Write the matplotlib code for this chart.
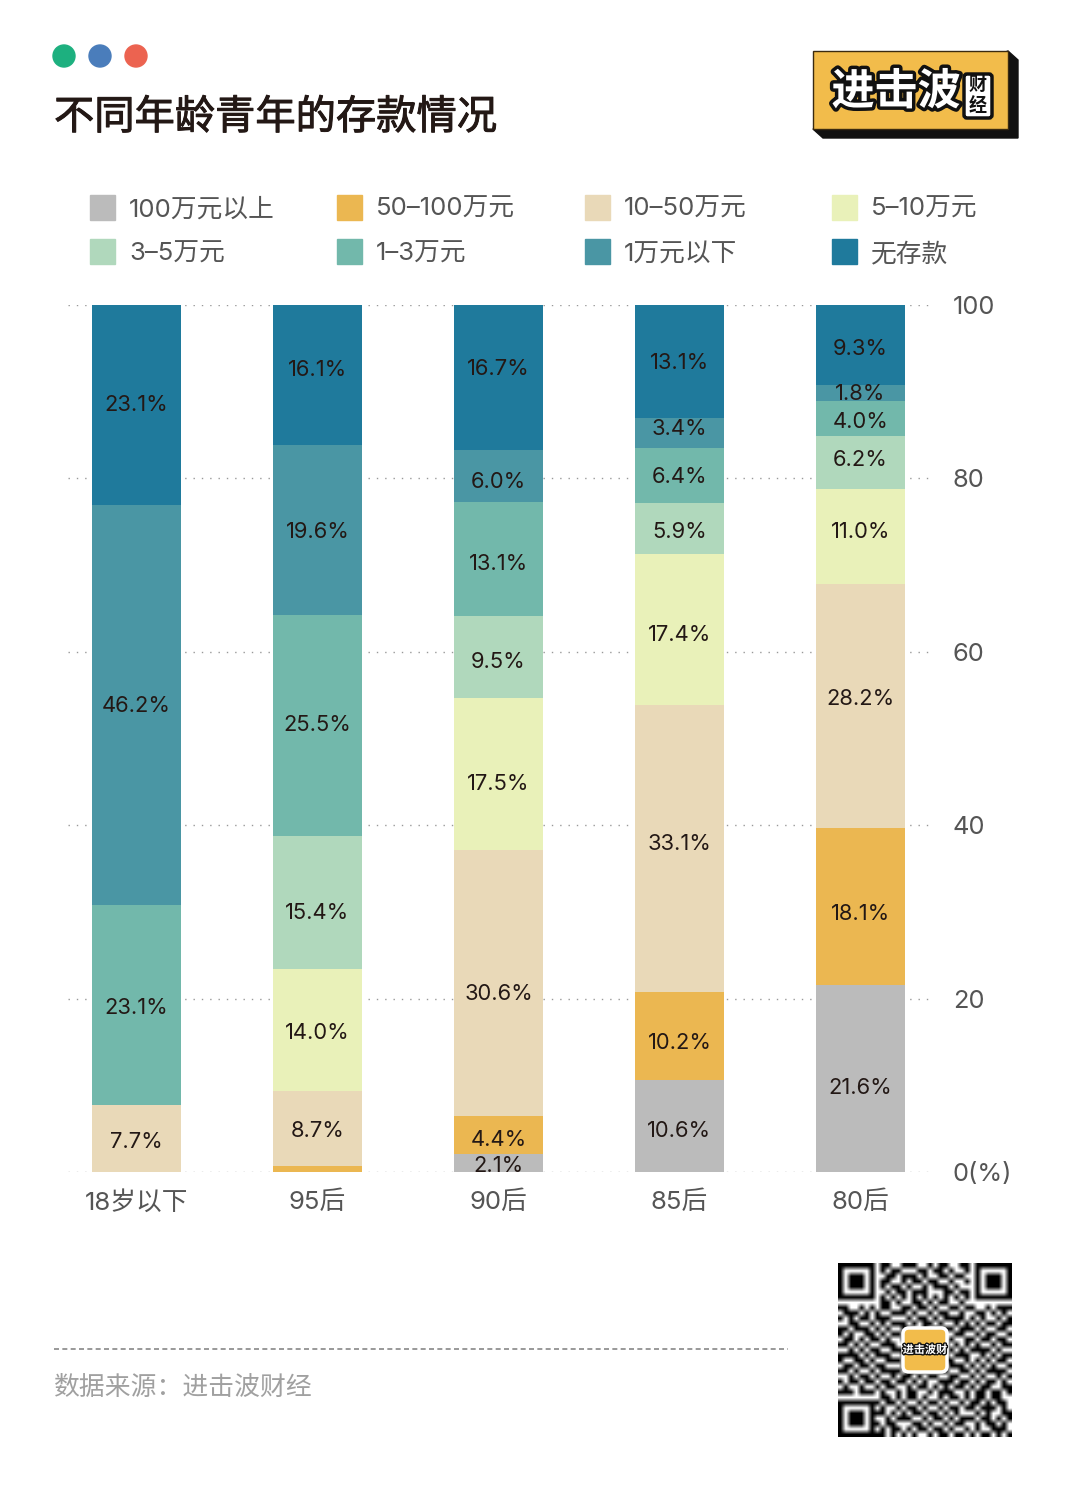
import matplotlib
matplotlib.use('Agg')
import matplotlib.pyplot as plt
import matplotlib.patheffects as pe
from matplotlib.patches import Circle, Polygon, Rectangle, FancyBboxPatch
import numpy as np

# Inter for the digits, the Chinese falls through to Noto
plt.rcParams['font.family'] = ['Inter', 'Noto Sans CJK SC', 'DejaVu Sans']

# data, one list per savings bracket, bottom of the stack first
groups = ['18岁以下', '95后', '90后', '85后', '80后']
over_100 = [0, 0, 2.1, 10.6, 21.6]
w50_100 = [0, 0.7, 4.4, 10.2, 18.1]
w10_50 = [7.7, 8.7, 30.6, 33.1, 28.2]
w5_10 = [0, 14.0, 17.5, 17.4, 11.0]
w3_5 = [0, 15.4, 9.5, 5.9, 6.2]
w1_3 = [23.1, 25.5, 13.1, 6.4, 4.0]
under_1 = [46.2, 19.6, 6.0, 3.4, 1.8]
no_savings = [23.1, 16.1, 16.7, 13.1, 9.3]

series = [over_100, w50_100, w10_50, w5_10, w3_5, w1_3, under_1, no_savings]
names = ['100万元以上', '50–100万元', '10–50万元', '5–10万元',
         '3–5万元', '1–3万元', '1万元以下', '无存款']
colors = ['#BBBBBB', '#EBB751', '#E9D9B8', '#E9F1B9',
          '#B0D8BC', '#72B8AB', '#4A96A4', '#1F7A9C']
y_ticks = [0, 20, 40, 60, 80, 100]
y_labels = ['0(%)', '20', '40', '60', '80', '100']

# the labels in the original are not quite centred, nudge in pixels (down is positive)
label_nudge = [[0, 0, 2, 4, 8],
               [0, 0, 4, 6, 6],
               [2, 2, 10, -5, -8],
               [0, 2, 9, 4, -6],
               [0, 10, 4, 2, -3],
               [2, -1, 4, 0, 3],
               [0, 1, 5, -5, 0],
               [-1, -6, -9, 0, 3]]

W, H = 1080, 1498
fig = plt.figure(figsize=(W / 100, H / 100), dpi=100, facecolor='white')

# chart axes, placed in pixels
left, right, top, bottom = 68, 932, 305, 1172
ax = fig.add_axes([left / W, 1 - bottom / H, (right - left) / W, (bottom - top) / H])
ax.set_xlim((left - 136.5) / 181, (right - 136.5) / 181)
ax.set_ylim(0, 100)

vals = np.array(series, dtype=float)
# bars always fill the whole column, the labels keep the rounded numbers
shares = vals / vals.sum(axis=0) * 100
base = np.zeros(len(groups))
for i in range(len(series)):
    ax.bar(range(len(groups)), shares[i], 89 / 181, bottom=base, color=colors[i], zorder=2)
    for j in range(len(groups)):
        if vals[i][j] >= 1:
            ax.annotate('%.1f%%' % vals[i][j], (j, base[j] + shares[i][j] / 2),
                        xytext=(0, -(label_nudge[i][j] + 1) * 0.72), textcoords='offset points',
                        ha='center', va='center', fontsize=15.8, color='#231815', zorder=3)
    base += shares[i]

ax.set_yticks(y_ticks)
ax.set_yticklabels(y_labels, fontsize=18.3, color='#555555')
ax.yaxis.tick_right()
ax.set_xticks(range(len(groups)))
ax.set_xticklabels(groups, fontsize=18.5, color='#555555')
ax.tick_params(axis='y', length=0, pad=15)
ax.tick_params(axis='x', length=0, pad=13.5)
for s in ax.spines.values():
    s.set_visible(False)
ax.grid(axis='y', color='#999999', linewidth=1, linestyle=(0, (1, 5)), zorder=1)
ax.set_axisbelow(True)

# overlay in pixel coordinates for everything around the chart
ov = fig.add_axes([0, 0, 1, 1], zorder=5)
ov.set_xlim(0, W)
ov.set_ylim(H, 0)
ov.axis('off')

for x, c in zip([64, 100, 136], ['#1DB07F', '#4A7DBB', '#EC6350']):
    ov.add_patch(Circle((x, 56), 11, color=c))

ov.text(54, 118, '不同年龄青年的存款情况', fontsize=29, color='#231815', va='center', ha='left',
        path_effects=[pe.withStroke(linewidth=0.7, foreground='#231815')])

# legend, four columns and two rows
for k in range(len(names)):
    x = 90 + 247.3 * (k % 4)
    y = 194.5 + 44.5 * (k // 4)
    ov.add_patch(Rectangle((x, y), 25, 25, color=colors[k]))
    ov.text(x + 39, y + 15, names[k], fontsize=18.5, color='#555555', va='center', ha='left')

# footer
ov.plot([54, 788], [1349, 1349], color='#888888', linewidth=1.2, linestyle=(0, (3, 2)))
ov.text(54, 1388, '数据来源：进击波财经', fontsize=18.6, color='#A0A0A0', va='center', ha='left')

# logo
ov.add_patch(Polygon([(1008, 51), (1018, 60), (1018, 138), (823, 138), (813, 129)], color='#111111'))
ov.add_patch(Rectangle((813, 51), 195, 78, facecolor='#F2BC4B', edgecolor='#3A2A10', linewidth=1))
ov.text(896, 93, '进击波', fontsize=31, fontweight='bold', color='white', ha='center', va='center',
        path_effects=[pe.withStroke(linewidth=5, foreground='#111111')])
ov.add_patch(FancyBboxPatch((964, 74), 28, 44, boxstyle='round,pad=0,rounding_size=3',
                            facecolor='white', edgecolor='#111111', linewidth=2.5, zorder=4))
ov.text(978, 85, '财', fontsize=13, fontweight='bold', color='#111111', ha='center', va='center', zorder=5)
ov.text(978, 106, '经', fontsize=13, fontweight='bold', color='#111111', ha='center', va='center', zorder=5)

# qr code
finder = ['1111111', '1000001', '1011101', '1011101', '1011101', '1000001', '1111111']
qr_top = ['0110011100101100110', '0101100011011010010', '0011011101001101100',
          '0110010110110010010', '0101101001011101000', '0010110111000110110',
          '0101010101010101010']
qr_mid = ['110010101100110110100110110010111', '011101010011101001011001001101010',
          '101011011100010110101111010100101', '001100101011101011010010101011011',
          '110111010100110010101101110100110', '101001101011001101010011001011001',
          '011010110100111010110100110110110', '110101001110010101001010101001011',
          '001010110011101011100101011110100', '111101011100110100011011100101011',
          '100110100111011010101100101010110', '011011011000100101010111010101001',
          '110100101111011010011001101011110', '001011010010110101100110010100101',
          '101101101101101010011101101011010', '010010010110010110101011010110011',
          '111011101001011001011100101101101']
qr_bottom = ['01101011010010110101101100', '10110100101101001011010110',
             '01001011010010110110111010', '11010101101101010001010011',
             '00101110010110101110110101', '10110001101001011001011010',
             '01011010110110100101001110', '11010101001011011010110101']
rows = [finder[i] + qr_top[i] + finder[i] for i in range(7)]
rows.append('0000000' + '0110100110101100100' + '0000000')
rows += qr_mid
rows.append('0000000' + qr_bottom[0])
rows += [finder[i] + qr_bottom[i + 1] for i in range(7)]
qr = np.array([[1 - int(c) for c in r] for r in rows])
ov.imshow(qr, cmap='gray', vmin=0, vmax=1, extent=(838, 1012, 1437, 1263),
          interpolation='bilinear', aspect='auto', zorder=1)
ov.set_xlim(0, W)
ov.set_ylim(H, 0)
ov.add_patch(FancyBboxPatch((903, 1328), 44, 44, boxstyle='round,pad=0,rounding_size=6',
                            facecolor='#F2BC4B', edgecolor='white', linewidth=2.5, zorder=2))
ov.text(925, 1350, '进击波财', fontsize=8, fontweight='bold', color='white', ha='center', va='center',
        zorder=3, path_effects=[pe.withStroke(linewidth=2, foreground='#111111')])

fig.savefig('out.png', dpi=100)
